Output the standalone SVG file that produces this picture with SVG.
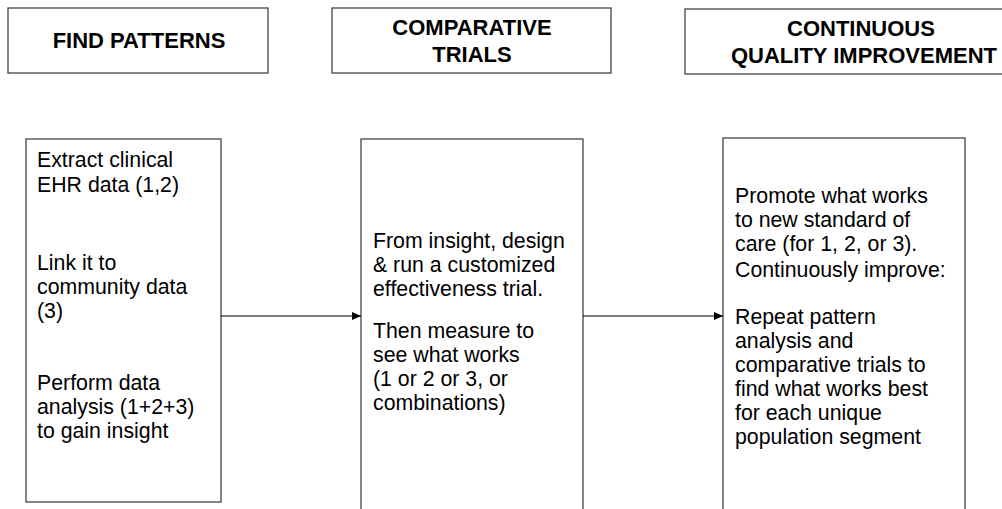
<svg xmlns="http://www.w3.org/2000/svg" width="1002" height="509" viewBox="0 0 1002 509">
<style>
.box{fill:#fff;stroke:#444;stroke-width:1.3}
.h{font-family:"Liberation Sans",Arial,sans-serif;font-weight:bold;font-size:22px;fill:#000;text-anchor:middle}
.t{font-family:"Liberation Sans",Arial,sans-serif;font-size:21.3px;fill:#000}
.c{stroke:#000;stroke-width:1.2;fill:none}
</style>
<defs>
<marker id="arr" markerWidth="10" markerHeight="8" refX="9" refY="4" orient="auto" markerUnits="userSpaceOnUse">
<path d="M0,0 L9,4 L0,8 Z" fill="#000"/>
</marker>
</defs>
<rect width="1002" height="509" fill="#fff"/>
<g id="h1"><rect class="box" x="8" y="8" width="260" height="65"/><text class="h" x="139" y="48">FIND PATTERNS</text></g>
<g id="h2"><rect class="box" x="332" y="8" width="279" height="65"/><text class="h" x="472" y="35">COMPARATIVE</text><text class="h" x="472" y="62">TRIALS</text></g>
<g id="h3"><rect class="box" x="685" y="9" width="352" height="65"/><text class="h" x="861" y="36">CONTINUOUS</text><text class="h" x="864" y="63">QUALITY IMPROVEMENT</text></g>
<g id="n1"><rect class="box" x="26" y="139" width="195" height="363"/>
<text class="t" x="37" y="167">Extract clinical</text>
<text class="t" x="37" y="192">EHR data (1,2)</text>
<text class="t" x="37" y="270">Link it to</text>
<text class="t" x="37" y="294">community data</text>
<text class="t" x="37" y="318">(3)</text>
<text class="t" x="37" y="390">Perform data</text>
<text class="t" x="37" y="414">analysis (1+2+3)</text>
<text class="t" x="37" y="438">to gain insight</text>
</g>
<g id="n2"><rect class="box" x="361" y="139" width="222" height="380"/>
<text class="t" x="373" y="248">From insight, design</text>
<text class="t" x="373" y="272">&amp; run a customized</text>
<text class="t" x="373" y="296">effectiveness trial.</text>
<text class="t" x="373" y="338">Then measure to</text>
<text class="t" x="373" y="362">see what works</text>
<text class="t" x="373" y="386">(1 or 2 or 3, or</text>
<text class="t" x="373" y="410">combinations)</text>
</g>
<g id="n3"><rect class="box" x="723" y="138" width="242" height="380"/>
<text class="t" x="735" y="203">Promote what works</text>
<text class="t" x="735" y="227">to new standard of</text>
<text class="t" x="735" y="251">care (for 1, 2, or 3).</text>
<text class="t" x="735" y="277">Continuously improve:</text>
<text class="t" x="735" y="324">Repeat pattern</text>
<text class="t" x="735" y="348">analysis and</text>
<text class="t" x="735" y="372">comparative trials to</text>
<text class="t" x="735" y="396">find what works best</text>
<text class="t" x="735" y="420">for each unique</text>
<text class="t" x="735" y="444">population segment</text>
</g>
<g id="connectors">
<line class="c" x1="221" y1="316" x2="361" y2="316" marker-end="url(#arr)"/>
<line class="c" x1="583" y1="316" x2="723" y2="316" marker-end="url(#arr)"/>
</g>
</svg>
